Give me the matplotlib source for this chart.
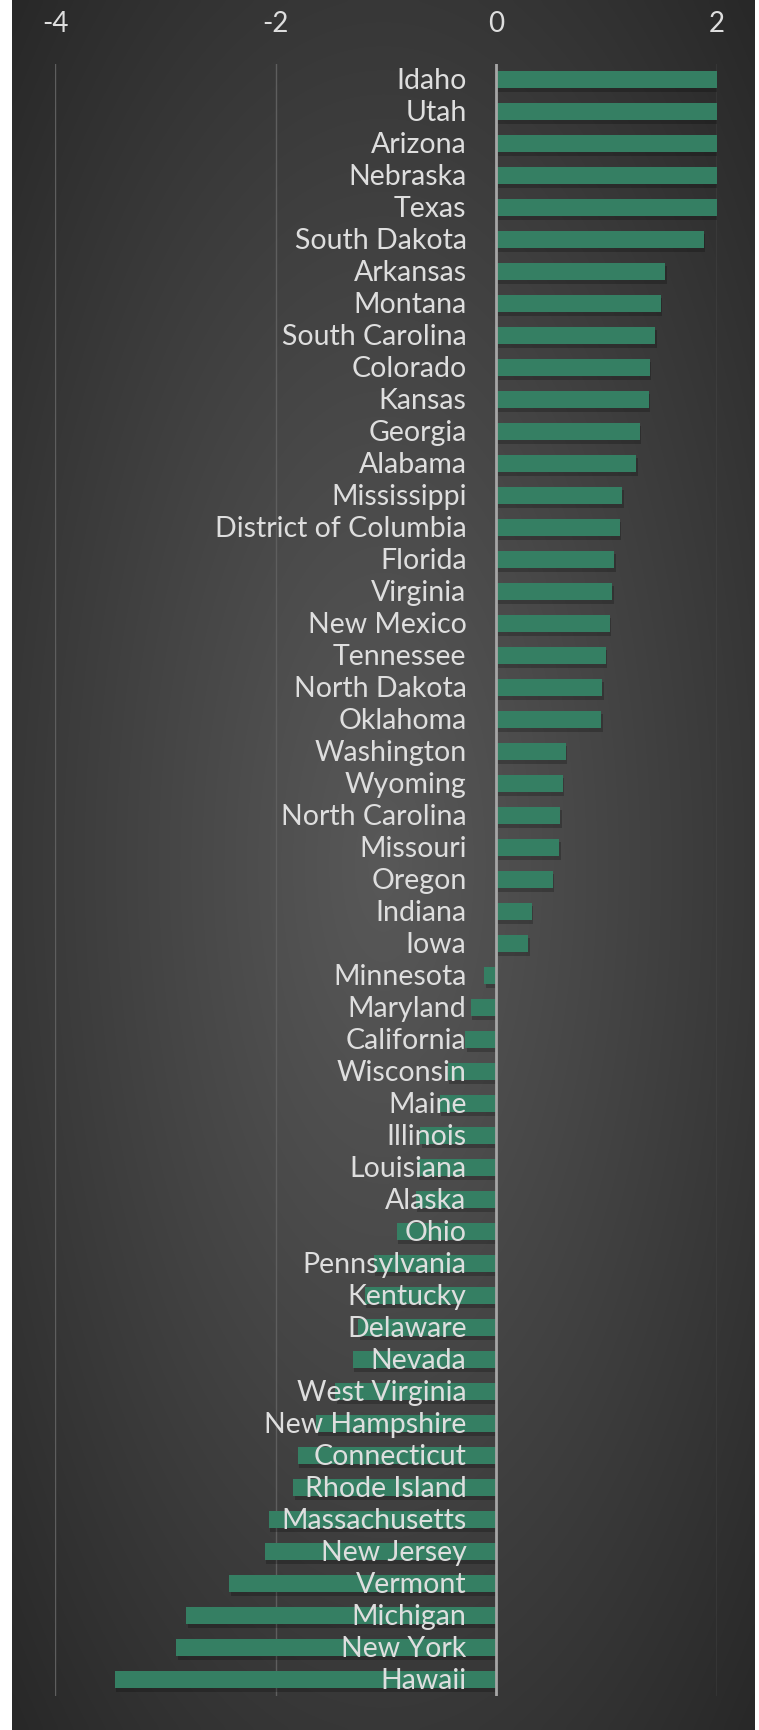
import numpy as np
import matplotlib
matplotlib.use("Agg")
import matplotlib.pyplot as plt
import matplotlib.patheffects as pe

states = ["Idaho", "Utah", "Arizona", "Nebraska", "Texas", "South Dakota", "Arkansas",
          "Montana", "South Carolina", "Colorado", "Kansas", "Georgia", "Alabama",
          "Mississippi", "District of Columbia", "Florida", "Virginia", "New Mexico",
          "Tennessee", "North Dakota", "Oklahoma", "Washington", "Wyoming",
          "North Carolina", "Missouri", "Oregon", "Indiana", "Iowa", "Minnesota",
          "Maryland", "California", "Wisconsin", "Maine", "Illinois", "Louisiana",
          "Alaska", "Ohio", "Pennsylvania", "Kentucky", "Delaware", "Nevada",
          "West Virginia", "New Hampshire", "Connecticut", "Rhode Island",
          "Massachusetts", "New Jersey", "Vermont", "Michigan", "New York", "Hawaii"]
values = [2.02, 2.02, 2.02, 2.02, 2.01, 1.88, 1.53, 1.49, 1.44, 1.39, 1.38, 1.30, 1.27,
          1.14, 1.12, 1.07, 1.05, 1.03, 0.99, 0.96, 0.95, 0.63, 0.60, 0.58, 0.57, 0.51,
          0.32, 0.29, -0.11, -0.23, -0.28, -0.44, -0.51, -0.69, -0.71, -0.73, -0.90,
          -1.11, -1.19, -1.25, -1.30, -1.46, -1.63, -1.80, -1.84, -2.06, -2.10, -2.42,
          -2.81, -2.90, -3.46]
ticks = [-4, -2, 0, 2]

W, H = 759, 1730
fig = plt.figure(figsize=(W / 100, H / 100), dpi=100, facecolor="white")

# panel with radial gradient background
bg = fig.add_axes([12 / W, 0, (755 - 12) / W, 1])
bg.set_axis_off()
yy, xx = np.mgrid[0:1:400j, 0:1:200j]
r = np.sqrt(((xx - 0.5) / 0.75) ** 2 + ((yy - 0.5) / 0.75) ** 2)
r = np.clip(r / 0.95, 0, 1)
lo, hi = 0.155, 0.345
shade = hi - (hi - lo) * r ** 1.1
img = np.dstack([shade, shade, shade])
bg.imshow(img, aspect="auto", extent=[0, 1, 0, 1], interpolation="bicubic")

# main axes
x0, x1 = 55, 717
y_top, y_bot = 63.5, 1695.5
ax = fig.add_axes([x0 / W, 1 - y_bot / H, (x1 - x0) / W, (y_bot - y_top) / H])
ax.patch.set_alpha(0)
n = len(states)
pos = np.arange(n)
ax.set_xlim(-4, 2)
ax.set_ylim(n - 0.5, -0.5)

for t in ticks:
    ax.axvline(t, color="#a6a6a6" if t == 0 else "#5e5e5e",
               lw=2.0 if t == 0 else 1.0, zorder=3 if t == 0 else 1)

bars = ax.barh(pos, values, height=0.54, color="#357f63", zorder=2)
for b in bars:
    b.set_path_effects([pe.SimplePatchShadow(offset=(1, -2.5), shadow_rgbFace="black", alpha=0.22),
                        pe.Normal()])

for i, s in enumerate(states):
    ax.text(-0.27, i + 0.04, s, ha="right", va="center", color="#dedede",
            fontsize=20.5, family="Lato", zorder=4)

ax.set_yticks([])
ax.xaxis.tick_top()
ax.set_xticks(ticks)
ax.set_xticklabels(["-4", "-2", "0", "2"], family="Lato", fontsize=20, color="#dedede")
ax.tick_params(axis="x", length=0, pad=19)
for sp in ax.spines.values():
    sp.set_visible(False)

fig.savefig("out.png", dpi=100, facecolor="white")
